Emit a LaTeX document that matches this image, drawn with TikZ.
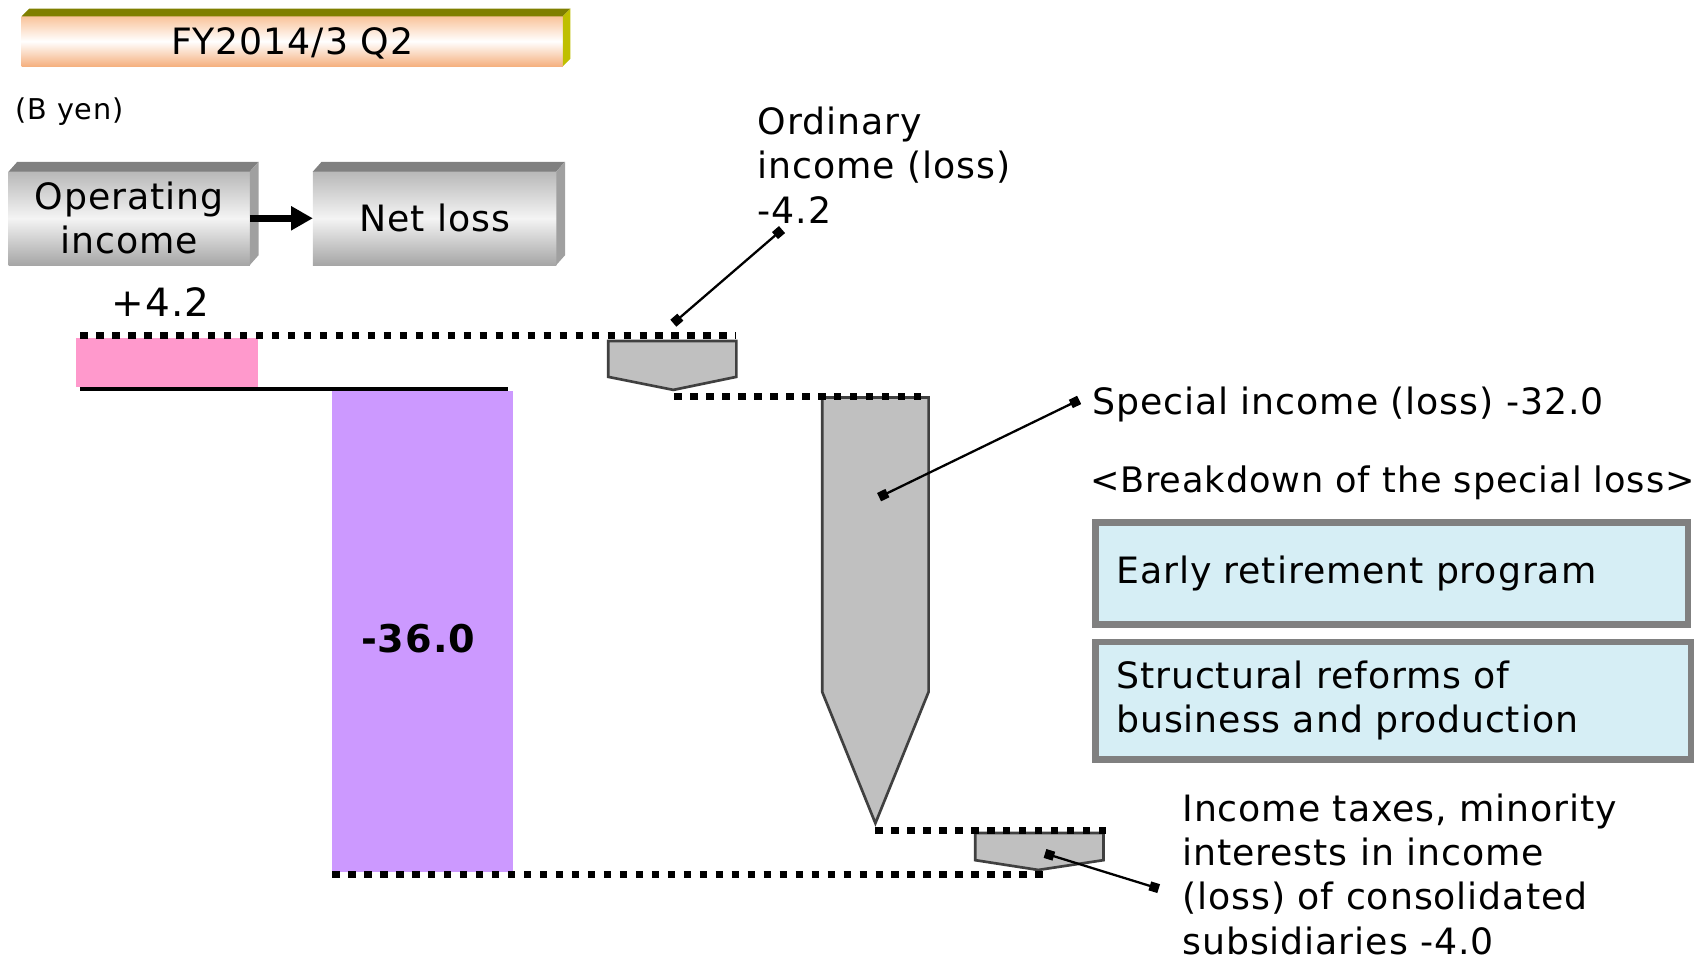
\documentclass[tikz,border=0pt]{standalone}
\usepackage{fontspec}
\setmainfont{DejaVu Sans}[LetterSpace=2.5]
\usetikzlibrary{%
  arrows.meta,%
  positioning% wg. " of "
}

\definecolor{barpink}{HTML}{FF99CC}
\definecolor{barlilac}{HTML}{CC99FF}
\definecolor{stepgray}{HTML}{C0C0C0}
\definecolor{stepline}{HTML}{404040}
\definecolor{boxblue}{HTML}{D6EEF5}
\definecolor{boxgray}{HTML}{808080}
\definecolor{cubegray}{HTML}{B8B8B8}
\definecolor{cubelight}{HTML}{F4F4F4}
\definecolor{cubedark}{HTML}{A6A6A6}
\definecolor{cubeface}{HTML}{808080}
\definecolor{cubeedge}{HTML}{A0A0A0}
\definecolor{peach}{HTML}{F9C39A}
\definecolor{peachdark}{HTML}{F5B07F}
\definecolor{olivetop}{HTML}{7F7F00}
\definecolor{oliveside}{HTML}{BFBF00}

\begin{document}
\begin{tikzpicture}[
    x=0.01cm,y=-0.01cm,
    font=\fontsize{9.5}{11.6}\selectfont,
    >={Square[length=0.085cm]},
    cube/.style={rectangle,outer sep=0pt,inner sep=0pt,align=center,
        top color=cubegray,bottom color=cubedark,middle color=cubelight},
    titlebar/.style={rectangle,outer sep=0pt,inner sep=0pt,
        top color=peach,bottom color=peachdark,middle color=white},
    fatarrow/.style={-{Triangle[length=0.2cm,width=0.21cm]},line width=0.06cm},
    dots/.style={line width=0.067cm,dash pattern=on 0.067cm off 0.08cm},
    stepshape/.style={fill=stepgray,draw=stepline,line width=0.7pt},
    callout/.style={<->,line width=0.6pt,shorten <=-0.04cm,shorten >=-0.04cm},
    lbl/.style={inner sep=0pt,anchor=west,align=left},
    breakbox/.style={rectangle,draw=boxgray,fill=boxblue,line width=0.06cm,
        align=left,inner xsep=0.19cm,text width=5.07cm},
    node distance=0.1cm
  ]
    \useasboundingbox (0,0) rectangle (1568,883);

    % heading and legend
    \node[titlebar,minimum width=4.98cm,minimum height=0.46cm,
        text height=0.25cm,text depth=0pt] (title) at (269,38) {FY2014/3 Q2};
    \fill[olivetop] (title.north west) -- ++(7,-7) -- ([shift={(7,-7)}]title.north east) -- (title.north east) -- cycle;
    \fill[oliveside] (title.north east) -- ++(7,-7) -- ([shift={(7,-7)}]title.south east) -- (title.south east) -- cycle;

    \node[lbl,font=\fontsize{7.5}{9}\selectfont] (unit) at (14,103) {(B yen)};

    \node[cube,minimum width=2.22cm,minimum height=0.86cm] (opinc) at (119,201) {Operating\\income};
    \node[cube,minimum width=2.24cm,minimum height=0.86cm,right=0.58cm of opinc] (netloss) {Net loss};
    \foreach \n in {opinc,netloss} {
        \fill[cubeface] (\n.north west) -- ++(8,-9) -- ([shift={(8,-9)}]\n.north east) -- (\n.north east) -- cycle;
        \fill[cubeedge] (\n.north east) -- ++(8,-9) -- ([shift={(8,-9)}]\n.south east) -- (\n.south east) -- cycle;
    }
    \draw[fatarrow] (opinc.east) -- (netloss.west);

    % bars
    \node[font=\fontsize{10.2}{12}\selectfont] (opval) at (148,278) {+4.2};
    \fill[barpink] (70,311) rectangle (238,356);
    \draw[line width=0.04cm] (74,358) -- (468,358);
    \fill[barlilac] (306,360) rectangle (472,803);
    \node[font=\bfseries] (netval) at (385,588) {-36.0};

    \draw[stepshape] (560,314) -- (678,314) -- (678,347) -- (620,359) -- (560,347) -- cycle;
    \draw[stepshape] (757,366) -- (855,366) -- (855,637) -- (806,758) -- (757,637) -- cycle;
    \draw[stepshape] (898,767) -- (1016,767) -- (1016,792) -- (956,801) -- (898,792) -- cycle;

    \draw[dots] (74,309) -- (678,309);
    \draw[dots] (621,365) -- (852,365);
    \draw[dots] (806,765) -- (1019,765);
    \draw[dots] (306,805) -- (962,805);

    % labels
    \node[lbl] (ordlbl) at (697,152) {Ordinary\\income (loss)\\-4.2};
    \node[lbl] (speclbl) at (1005,372) {Special income (loss) -32.0};
    \node[lbl,font=\fontsize{9.2}{11.6}\selectfont] (brklbl) at (1003,445) {<Breakdown of the special loss>};
    \node[breakbox,minimum height=0.94cm] (retire) at (1281.5,528) {Early retirement program};
    \node[breakbox,minimum height=1.08cm,text width=5.10cm,
        below=of retire.south west,anchor=north west] (reform) {Structural reforms of\\business and production};
    \node[lbl] (taxlbl) at (1088,805)
        {Income taxes, minority\\interests in income\\(loss) of consolidated\\subsidiaries -4.0};

    \coordinate (ordtip)  at (623,295);
    \coordinate (ordend)  at (717,214);
    \coordinate (spectip) at (813,456);
    \coordinate (specend) at (990,370);
    \coordinate (taxtip)  at (966,787);
    \coordinate (taxend)  at (1063,817);
    \draw[callout] (ordtip) -- (ordend);
    \draw[callout] (spectip) -- (specend);
    \draw[callout] (taxtip) -- (taxend);
\end{tikzpicture}
\end{document}
